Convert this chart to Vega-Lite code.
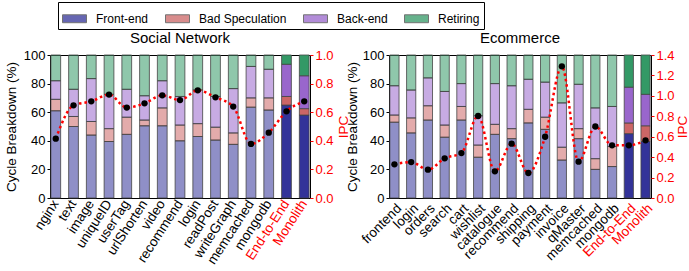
{
  "$schema": "https://vega.github.io/schema/vega-lite/v6.json",
  "padding": {"left": 3, "top": 1, "right": 0, "bottom": 0},
  "spacing": -7,
  "config": {
    "font": "Liberation Sans",
    "view": {"stroke": "black", "strokeWidth": 1},
    "axis": {"labelFontSize": 13, "titleFontSize": 13.5, "titleFontWeight": "normal", "grid": false, "labelColor": "black", "domain": false, "tickColor": "black", "titleColor": "black"},
    "axisX": {"labelFontSize": 13.5},
    "title": {"fontSize": 15, "fontWeight": "normal", "offset": 3}
  },
  "datasets": {
    "social": [
      {"app": "nginx", "kind": "service", "cat": "Front-end", "val": 61}, {"app": "nginx", "kind": "service", "cat": "Bad Speculation", "val": 8}, {"app": "nginx", "kind": "service", "cat": "Back-end", "val": 13}, {"app": "nginx", "kind": "service", "cat": "Retiring", "val": 18},
      {"app": "text", "kind": "service", "cat": "Front-end", "val": 50}, {"app": "text", "kind": "service", "cat": "Bad Speculation", "val": 7}, {"app": "text", "kind": "service", "cat": "Back-end", "val": 19}, {"app": "text", "kind": "service", "cat": "Retiring", "val": 24},
      {"app": "image", "kind": "service", "cat": "Front-end", "val": 44}, {"app": "image", "kind": "service", "cat": "Bad Speculation", "val": 9.5}, {"app": "image", "kind": "service", "cat": "Back-end", "val": 30}, {"app": "image", "kind": "service", "cat": "Retiring", "val": 16.5},
      {"app": "uniqueID", "kind": "service", "cat": "Front-end", "val": 39.5}, {"app": "uniqueID", "kind": "service", "cat": "Bad Speculation", "val": 9}, {"app": "uniqueID", "kind": "service", "cat": "Back-end", "val": 24}, {"app": "uniqueID", "kind": "service", "cat": "Retiring", "val": 27.5},
      {"app": "userTag", "kind": "service", "cat": "Front-end", "val": 44.5}, {"app": "userTag", "kind": "service", "cat": "Bad Speculation", "val": 12}, {"app": "userTag", "kind": "service", "cat": "Back-end", "val": 19.5}, {"app": "userTag", "kind": "service", "cat": "Retiring", "val": 24},
      {"app": "urlShorten", "kind": "service", "cat": "Front-end", "val": 50.5}, {"app": "urlShorten", "kind": "service", "cat": "Bad Speculation", "val": 4}, {"app": "urlShorten", "kind": "service", "cat": "Back-end", "val": 17}, {"app": "urlShorten", "kind": "service", "cat": "Retiring", "val": 28.5},
      {"app": "video", "kind": "service", "cat": "Front-end", "val": 50.5}, {"app": "video", "kind": "service", "cat": "Bad Speculation", "val": 12.5}, {"app": "video", "kind": "service", "cat": "Back-end", "val": 19}, {"app": "video", "kind": "service", "cat": "Retiring", "val": 18},
      {"app": "recommend", "kind": "service", "cat": "Front-end", "val": 40}, {"app": "recommend", "kind": "service", "cat": "Bad Speculation", "val": 11}, {"app": "recommend", "kind": "service", "cat": "Back-end", "val": 20}, {"app": "recommend", "kind": "service", "cat": "Retiring", "val": 29},
      {"app": "login", "kind": "service", "cat": "Front-end", "val": 43}, {"app": "login", "kind": "service", "cat": "Bad Speculation", "val": 9}, {"app": "login", "kind": "service", "cat": "Back-end", "val": 23.5}, {"app": "login", "kind": "service", "cat": "Retiring", "val": 24.5},
      {"app": "readPost", "kind": "service", "cat": "Front-end", "val": 40.5}, {"app": "readPost", "kind": "service", "cat": "Bad Speculation", "val": 9}, {"app": "readPost", "kind": "service", "cat": "Back-end", "val": 21.5}, {"app": "readPost", "kind": "service", "cat": "Retiring", "val": 29},
      {"app": "writeGraph", "kind": "service", "cat": "Front-end", "val": 37.5}, {"app": "writeGraph", "kind": "service", "cat": "Bad Speculation", "val": 8}, {"app": "writeGraph", "kind": "service", "cat": "Back-end", "val": 31}, {"app": "writeGraph", "kind": "service", "cat": "Retiring", "val": 23.5},
      {"app": "memcached", "kind": "service", "cat": "Front-end", "val": 63.5}, {"app": "memcached", "kind": "service", "cat": "Bad Speculation", "val": 6.5}, {"app": "memcached", "kind": "service", "cat": "Back-end", "val": 22}, {"app": "memcached", "kind": "service", "cat": "Retiring", "val": 8},
      {"app": "mongodb", "kind": "service", "cat": "Front-end", "val": 61.5}, {"app": "mongodb", "kind": "service", "cat": "Bad Speculation", "val": 8.5}, {"app": "mongodb", "kind": "service", "cat": "Back-end", "val": 20}, {"app": "mongodb", "kind": "service", "cat": "Retiring", "val": 10},
      {"app": "End-to-End", "kind": "total", "cat": "Front-end", "val": 65}, {"app": "End-to-End", "kind": "total", "cat": "Bad Speculation", "val": 6}, {"app": "End-to-End", "kind": "total", "cat": "Back-end", "val": 22.5}, {"app": "End-to-End", "kind": "total", "cat": "Retiring", "val": 6.5},
      {"app": "Monolith", "kind": "total", "cat": "Front-end", "val": 58}, {"app": "Monolith", "kind": "total", "cat": "Bad Speculation", "val": 4.5}, {"app": "Monolith", "kind": "total", "cat": "Back-end", "val": 23}, {"app": "Monolith", "kind": "total", "cat": "Retiring", "val": 14.5}
    ],
    "socialIpc": [
      {"app": "nginx", "ipc": 0.415}, {"app": "text", "ipc": 0.648}, {"app": "image", "ipc": 0.676}, {"app": "uniqueID", "ipc": 0.723}, {"app": "userTag", "ipc": 0.632}, {"app": "urlShorten", "ipc": 0.662}, {"app": "video", "ipc": 0.718}, {"app": "recommend", "ipc": 0.685}, {"app": "login", "ipc": 0.753}, {"app": "readPost", "ipc": 0.704}, {"app": "writeGraph", "ipc": 0.639}, {"app": "memcached", "ipc": 0.378}, {"app": "mongodb", "ipc": 0.457}, {"app": "End-to-End", "ipc": 0.606}, {"app": "Monolith", "ipc": 0.676}
    ],
    "ecom": [
      {"app": "frontend", "kind": "service", "cat": "Front-end", "val": 53}, {"app": "frontend", "kind": "service", "cat": "Bad Speculation", "val": 5}, {"app": "frontend", "kind": "service", "cat": "Back-end", "val": 20.5}, {"app": "frontend", "kind": "service", "cat": "Retiring", "val": 21.5},
      {"app": "login", "kind": "service", "cat": "Front-end", "val": 45.5}, {"app": "login", "kind": "service", "cat": "Bad Speculation", "val": 10.5}, {"app": "login", "kind": "service", "cat": "Back-end", "val": 19.5}, {"app": "login", "kind": "service", "cat": "Retiring", "val": 24.5},
      {"app": "orders", "kind": "service", "cat": "Front-end", "val": 54.5}, {"app": "orders", "kind": "service", "cat": "Bad Speculation", "val": 10}, {"app": "orders", "kind": "service", "cat": "Back-end", "val": 19.5}, {"app": "orders", "kind": "service", "cat": "Retiring", "val": 16},
      {"app": "search", "kind": "service", "cat": "Front-end", "val": 42.5}, {"app": "search", "kind": "service", "cat": "Bad Speculation", "val": 8.5}, {"app": "search", "kind": "service", "cat": "Back-end", "val": 23.5}, {"app": "search", "kind": "service", "cat": "Retiring", "val": 25.5},
      {"app": "cart", "kind": "service", "cat": "Front-end", "val": 54.5}, {"app": "cart", "kind": "service", "cat": "Bad Speculation", "val": 9.5}, {"app": "cart", "kind": "service", "cat": "Back-end", "val": 16}, {"app": "cart", "kind": "service", "cat": "Retiring", "val": 20},
      {"app": "wishlist", "kind": "service", "cat": "Front-end", "val": 28.5}, {"app": "wishlist", "kind": "service", "cat": "Bad Speculation", "val": 8.5}, {"app": "wishlist", "kind": "service", "cat": "Back-end", "val": 20.5}, {"app": "wishlist", "kind": "service", "cat": "Retiring", "val": 42.5},
      {"app": "catalogue", "kind": "service", "cat": "Front-end", "val": 44.5}, {"app": "catalogue", "kind": "service", "cat": "Bad Speculation", "val": 7}, {"app": "catalogue", "kind": "service", "cat": "Back-end", "val": 28.5}, {"app": "catalogue", "kind": "service", "cat": "Retiring", "val": 20},
      {"app": "recommend", "kind": "service", "cat": "Front-end", "val": 41.5}, {"app": "recommend", "kind": "service", "cat": "Bad Speculation", "val": 7}, {"app": "recommend", "kind": "service", "cat": "Back-end", "val": 30}, {"app": "recommend", "kind": "service", "cat": "Retiring", "val": 21.5},
      {"app": "shipping", "kind": "service", "cat": "Front-end", "val": 52.5}, {"app": "shipping", "kind": "service", "cat": "Bad Speculation", "val": 9.5}, {"app": "shipping", "kind": "service", "cat": "Back-end", "val": 21}, {"app": "shipping", "kind": "service", "cat": "Retiring", "val": 17},
      {"app": "payment", "kind": "service", "cat": "Front-end", "val": 48}, {"app": "payment", "kind": "service", "cat": "Bad Speculation", "val": 8.5}, {"app": "payment", "kind": "service", "cat": "Back-end", "val": 24.5}, {"app": "payment", "kind": "service", "cat": "Retiring", "val": 19},
      {"app": "invoice", "kind": "service", "cat": "Front-end", "val": 26.5}, {"app": "invoice", "kind": "service", "cat": "Bad Speculation", "val": 9}, {"app": "invoice", "kind": "service", "cat": "Back-end", "val": 31}, {"app": "invoice", "kind": "service", "cat": "Retiring", "val": 33.5},
      {"app": "qMaster", "kind": "service", "cat": "Front-end", "val": 41.5}, {"app": "qMaster", "kind": "service", "cat": "Bad Speculation", "val": 7}, {"app": "qMaster", "kind": "service", "cat": "Back-end", "val": 31}, {"app": "qMaster", "kind": "service", "cat": "Retiring", "val": 20.5},
      {"app": "memcached", "kind": "service", "cat": "Front-end", "val": 20}, {"app": "memcached", "kind": "service", "cat": "Bad Speculation", "val": 7.5}, {"app": "memcached", "kind": "service", "cat": "Back-end", "val": 35.5}, {"app": "memcached", "kind": "service", "cat": "Retiring", "val": 37},
      {"app": "mongodb", "kind": "service", "cat": "Front-end", "val": 22}, {"app": "mongodb", "kind": "service", "cat": "Bad Speculation", "val": 14}, {"app": "mongodb", "kind": "service", "cat": "Back-end", "val": 28}, {"app": "mongodb", "kind": "service", "cat": "Retiring", "val": 36},
      {"app": "End-to-End", "kind": "total", "cat": "Front-end", "val": 45}, {"app": "End-to-End", "kind": "total", "cat": "Bad Speculation", "val": 7.5}, {"app": "End-to-End", "kind": "total", "cat": "Back-end", "val": 25}, {"app": "End-to-End", "kind": "total", "cat": "Retiring", "val": 22.5},
      {"app": "Monolith", "kind": "total", "cat": "Front-end", "val": 39.5}, {"app": "Monolith", "kind": "total", "cat": "Bad Speculation", "val": 11}, {"app": "Monolith", "kind": "total", "cat": "Back-end", "val": 22}, {"app": "Monolith", "kind": "total", "cat": "Retiring", "val": 27.5}
    ],
    "ecomIpc": [
      {"app": "frontend", "ipc": 0.33}, {"app": "login", "ipc": 0.352}, {"app": "orders", "ipc": 0.277}, {"app": "search", "ipc": 0.388}, {"app": "cart", "ipc": 0.44}, {"app": "wishlist", "ipc": 0.803}, {"app": "catalogue", "ipc": 0.261}, {"app": "recommend", "ipc": 0.532}, {"app": "shipping", "ipc": 0.245}, {"app": "payment", "ipc": 0.6}, {"app": "invoice", "ipc": 1.289}, {"app": "qMaster", "ipc": 0.356}, {"app": "memcached", "ipc": 0.7}, {"app": "mongodb", "ipc": 0.516}, {"app": "End-to-End", "ipc": 0.516}, {"app": "Monolith", "ipc": 0.565}
    ]
  },
  "hconcat": [
    {
      "width": 260,
      "height": 143,
      "title": "Social Network",
      "layer": [
        {
          "data": {"name": "social"},
          "transform": [{"calculate": "indexof(['Front-end','Bad Speculation','Back-end','Retiring'], datum.cat)", "as": "ord"}],
          "mark": {"type": "bar", "stroke": "#444444", "strokeWidth": 0.8},
          "encoding": {
            "x": {"field": "app", "type": "nominal", "sort": ["nginx","text","image","uniqueID","userTag","urlShorten","video","recommend","login","readPost","writeGraph","memcached","mongodb","End-to-End","Monolith"], "scale": {"paddingInner": 0.45, "paddingOuter": 0.05},
              "axis": {"title": null, "labelAngle": -57, "ticks": false, "labelPadding": 3, "labelColor": {"condition": {"test": "datum.value === 'End-to-End' || datum.value === 'Monolith'", "value": "red"}, "value": "black"}}},
            "y": {"field": "val", "type": "quantitative", "stack": "zero", "scale": {"domain": [0, 100]}, "axis": {"title": "Cycle Breakdown (%)", "values": [0, 20, 40, 60, 80, 100], "tickSize": 3, "labelPadding": 2, "titlePadding": 5}},
            "color": {"field": "cat", "type": "nominal", "scale": {"domain": ["Front-end", "Bad Speculation", "Back-end", "Retiring"], "range": ["#333399", "#cc6666", "#9966cc", "#339966"]},
              "legend": {"title": null, "orient": "none", "legendX": 8, "legendY": -53, "direction": "horizontal", "strokeColor": "black", "padding": 4, "columnPadding": 14, "labelFontSize": 12, "labelOffset": 9, "symbolType": "M-1,-0.33H1V0.33H-1Z", "symbolSize": 576, "symbolStrokeColor": "#333333", "symbolStrokeWidth": 1, "symbolOpacity": 0.75}},
            "fillOpacity": {"field": "kind", "type": "ordinal", "scale": {"domain": ["service", "total"], "range": [0.55, 1]}, "legend": null},
            "order": {"field": "ord", "type": "quantitative"}
          }
        },
        {
          "data": {"name": "socialIpc"},
          "encoding": {
            "x": {"field": "app", "type": "nominal", "sort": ["nginx","text","image","uniqueID","userTag","urlShorten","video","recommend","login","readPost","writeGraph","memcached","mongodb","End-to-End","Monolith"]},
            "y": {"field": "ipc", "type": "quantitative", "scale": {"domain": [0, 1]}, "axis": {"orient": "right", "title": "IPC", "titleColor": "red", "labelColor": "red", "tickColor": "red", "format": ".1f", "values": [0, 0.2, 0.4, 0.6, 0.8, 1.0], "tickSize": 3, "labelPadding": 2, "titleAngle": 270, "titleBaseline": "top", "titlePadding": 3}}
          },
          "layer": [
            {"mark": {"type": "line", "color": "red", "strokeDash": [2.5, 3], "strokeWidth": 2.5, "interpolate": "monotone"}},
            {"mark": {"type": "point", "filled": true, "color": "black", "size": 40, "opacity": 1}}
          ]
        }
      ],
      "resolve": {"scale": {"y": "independent"}}
    },
    {
      "width": 262,
      "height": 143,
      "title": "Ecommerce",
      "layer": [
        {
          "data": {"name": "ecom"},
          "transform": [{"calculate": "indexof(['Front-end','Bad Speculation','Back-end','Retiring'], datum.cat)", "as": "ord"}],
          "mark": {"type": "bar", "stroke": "#444444", "strokeWidth": 0.8},
          "encoding": {
            "x": {"field": "app", "type": "nominal", "sort": ["frontend","login","orders","search","cart","wishlist","catalogue","recommend","shipping","payment","invoice","qMaster","memcached","mongodb","End-to-End","Monolith"], "scale": {"paddingInner": 0.45, "paddingOuter": 0.05},
              "axis": {"title": null, "labelAngle": -45, "ticks": false, "labelPadding": 3, "labelColor": {"condition": {"test": "datum.value === 'End-to-End' || datum.value === 'Monolith'", "value": "red"}, "value": "black"}}},
            "y": {"field": "val", "type": "quantitative", "stack": "zero", "scale": {"domain": [0, 100]}, "axis": {"title": "Cycle Breakdown (%)", "values": [0, 20, 40, 60, 80, 100], "tickSize": 3, "labelPadding": 2, "titlePadding": 3}},
            "color": {"field": "cat", "type": "nominal"},
            "fillOpacity": {"field": "kind", "type": "ordinal", "scale": {"domain": ["service", "total"], "range": [0.55, 1]}, "legend": null},
            "order": {"field": "ord", "type": "quantitative"}
          }
        },
        {
          "data": {"name": "ecomIpc"},
          "encoding": {
            "x": {"field": "app", "type": "nominal", "sort": ["frontend","login","orders","search","cart","wishlist","catalogue","recommend","shipping","payment","invoice","qMaster","memcached","mongodb","End-to-End","Monolith"]},
            "y": {"field": "ipc", "type": "quantitative", "scale": {"domain": [0, 1.4]}, "axis": {"orient": "right", "title": "IPC", "titleColor": "red", "labelColor": "red", "tickColor": "red", "format": ".1f", "values": [0, 0.2, 0.4, 0.6, 0.8, 1.0, 1.2, 1.4], "tickSize": 3, "labelPadding": 2, "titleAngle": 270, "titleBaseline": "top", "titlePadding": 1}}
          },
          "layer": [
            {"mark": {"type": "line", "color": "red", "strokeDash": [2.5, 3], "strokeWidth": 2.5, "interpolate": "monotone"}},
            {"mark": {"type": "point", "filled": true, "color": "black", "size": 40, "opacity": 1}}
          ]
        }
      ],
      "resolve": {"scale": {"y": "independent"}}
    }
  ]
}
